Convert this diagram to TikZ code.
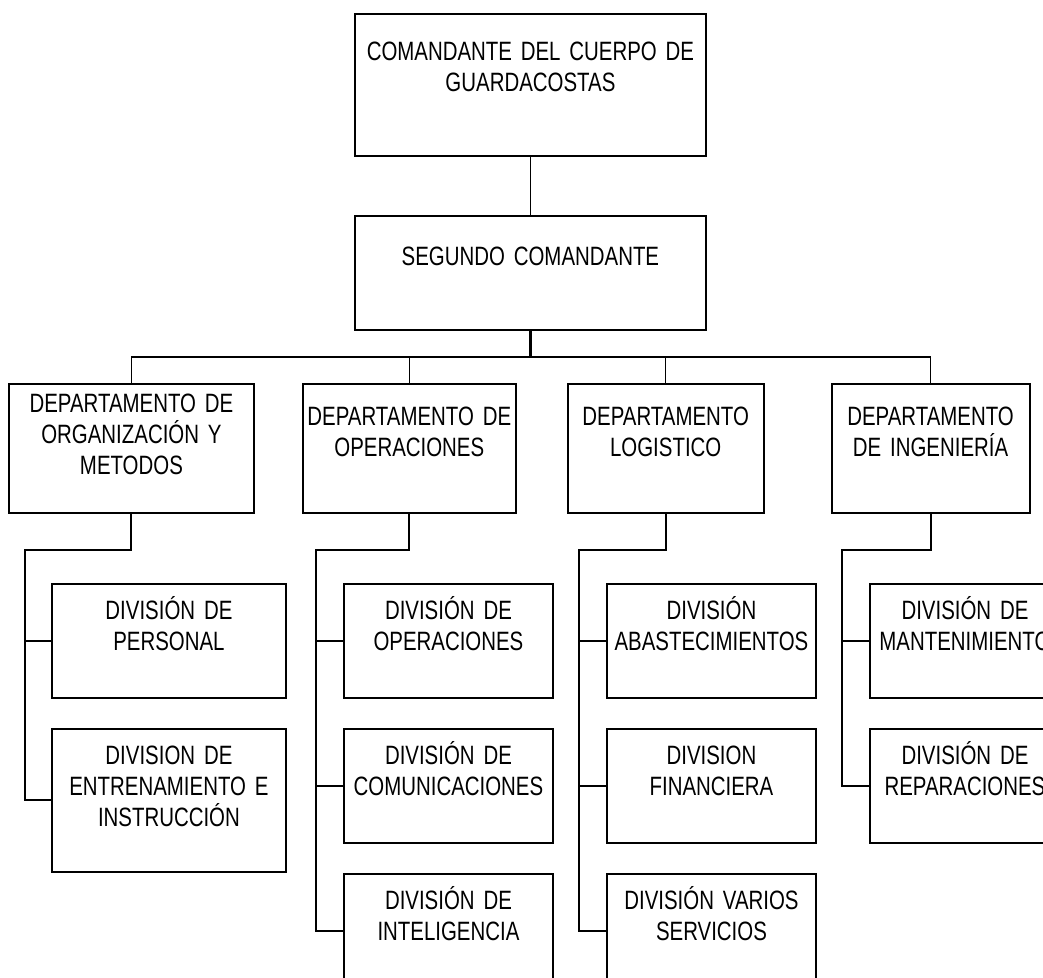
\documentclass[tikz,border=0pt]{standalone}
\usepackage{fontspec}
\setmainfont{Liberation Sans}[FakeStretch=0.77]
\usepackage{tikz}
\usetikzlibrary{positioning}
\usetikzlibrary{calc}
\tikzstyle{block} = [draw, rectangle, line width = 1.1pt, inner sep = 0pt, align = center, font = \fontsize{15.1}{17.4}\selectfont]
\tikzstyle{dept} = [block, text height = 0.84cm, text depth = 1.74cm]
\tikzstyle{division} = [block, text height = 0.72cm, text depth = 1.56cm]
\tikzstyle{link} = [line width = 1.1pt]
\tikzstyle{thinlink} = [line width = 0.8pt]
\tikzstyle{bus} = [line width = 1.4pt]

\begin{document}
\begin{tikzpicture}[x = 0.02cm, y = -0.02cm]

		\useasboundingbox (0,0) rectangle (1043,977);
		\clip (0,0) rectangle (1043,977);

		% Command
		\node[block, anchor = north west, text width = 7.02cm, text height = 0.94cm, text depth = 1.90cm] (cmd) at (354,13) {COMANDANTE DEL CUERPO DE\\GUARDACOSTAS};
		\node[block, below = 1.16cm of cmd, text width = 7.02cm, text height = 1.0cm, text depth = 1.28cm] (seg) {SEGUNDO COMANDANTE};
		\coordinate[below = 0.52cm of seg] (bseg);

		% Departments
		\node[dept, anchor = north west, text width = 4.9cm, text height = 0.58cm, text depth = 2.0cm] (dorg) at (8,383) {DEPARTAMENTO DE\\ORGANIZACIÓN Y\\METODOS};
		\node[dept, right = 0.94cm of dorg, text width = 4.26cm] (dope) {DEPARTAMENTO DE\\OPERACIONES};
		\node[dept, right = 1.0cm of dope, text width = 3.92cm] (dlog) {DEPARTAMENTO\\LOGISTICO};
		\node[dept, right = 1.32cm of dlog, text width = 3.96cm] (ding) {DEPARTAMENTO\\DE INGENIERÍA};
		\coordinate[below = 0.72cm of dorg] (bdorg);
		\coordinate[below = 0.72cm of dope] (bdope);
		\coordinate[below = 0.72cm of dlog] (bdlog);
		\coordinate[below = 0.72cm of ding] (bding);

		% Divisions of organization
		\node[division, anchor = north west, text width = 4.68cm] (dper) at (51,583) {DIVISIÓN DE\\PERSONAL};
		\node[division, below = 0.58cm of dper, text width = 4.68cm, text depth = 2.14cm] (dent) {DIVISION DE\\ENTRENAMIENTO E\\INSTRUCCIÓN};
		\coordinate[left = 0.52cm of dper.west] (ldper);

		% Divisions of operations
		\node[division, anchor = north west, text width = 4.18cm] (dopr) at (343,583) {DIVISIÓN DE\\OPERACIONES};
		\node[division, below = 0.58cm of dopr, text width = 4.18cm] (dcom) {DIVISIÓN DE\\COMUNICACIONES};
		\node[division, below = 0.58cm of dcom, text width = 4.18cm] (dint) {DIVISIÓN DE\\INTELIGENCIA};
		\coordinate[left = 0.54cm of dopr.west] (ldopr);

		% Divisions of logistics
		\node[division, anchor = north west, text width = 4.18cm] (dabs) at (606,583) {DIVISIÓN\\ABASTECIMIENTOS};
		\node[division, below = 0.58cm of dabs, text width = 4.18cm] (dfin) {DIVISION\\FINANCIERA};
		\node[division, below = 0.58cm of dfin, text width = 4.18cm] (dvar) {DIVISIÓN VARIOS\\SERVICIOS};
		\coordinate[left = 0.54cm of dabs.west] (ldabs);

		% Divisions of engineering
		\node[division, anchor = north west, text width = 3.8cm] (dman) at (869,583) {DIVISIÓN DE\\MANTENIMIENTO};
		\node[division, below = 0.58cm of dman, text width = 3.8cm] (drep) {DIVISIÓN DE\\REPARACIONES};
		\coordinate[left = 0.54cm of dman.west] (ldman);

		% Connect all nodes defined above
		\draw[thinlink] (cmd) -- (seg);
		\draw[bus] (seg) -- (bseg);
		\draw[bus] (dorg.north |- bseg) -- (ding.north |- bseg);
		\draw[thinlink] (dorg.north |- bseg) -- (dorg);
		\draw[thinlink] (dope.north |- bseg) -- (dope);
		\draw[thinlink] (dlog.north |- bseg) -- (dlog);
		\draw[thinlink] (ding.north |- bseg) -- (ding);

		\draw[link] (dorg) -- (bdorg) -- (bdorg -| ldper) |- (dent.west);
		\draw[link] (ldper) -- (dper.west);

		\draw[link] (dope) -- (bdope) -- (bdope -| ldopr) |- (dint.west);
		\draw[link] (ldopr) -- (dopr.west);
		\draw[link] (ldopr |- dcom.west) -- (dcom.west);

		\draw[link] (dlog) -- (bdlog) -- (bdlog -| ldabs) |- (dvar.west);
		\draw[link] (ldabs) -- (dabs.west);
		\draw[link] (ldabs |- dfin.west) -- (dfin.west);

		\draw[link] (ding) -- (bding) -- (bding -| ldman) |- (drep.west);
		\draw[link] (ldman) -- (dman.west);

	\end{tikzpicture}
\end{document}
